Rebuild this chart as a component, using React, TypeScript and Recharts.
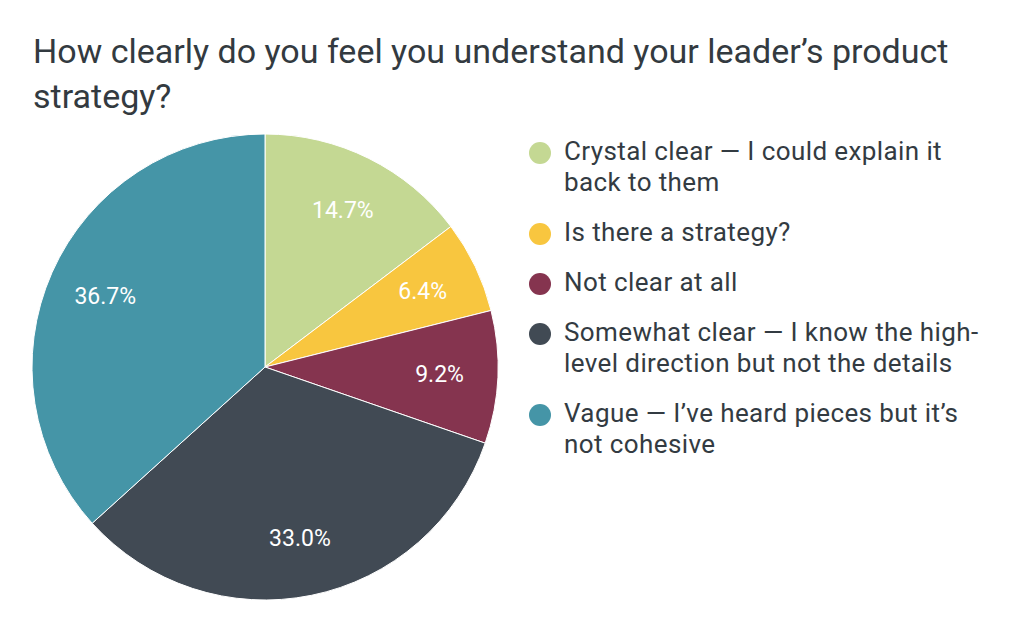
import React from "react";
import { PieChart, Pie, Cell, Legend } from "recharts";

const categories = [
  "Crystal clear — I could explain it back to them",
  "Is there a strategy?",
  "Not clear at all",
  "Somewhat clear — I know the high-level direction but not the details",
  "Vague — I’ve heard pieces but it’s not cohesive",
];
const values = [14.7, 6.4, 9.2, 33.0, 36.7];
const legendLines = [
  ["Crystal clear — I could explain it", "back to them"],
  ["Is there a strategy?"],
  ["Not clear at all"],
  ["Somewhat clear — I know the high-", "level direction but not the details"],
  ["Vague — I’ve heard pieces but it’s", "not cohesive"],
];
const colors = ["#c4d893", "#f8c63f", "#85344f", "#414a54", "#4595a7"];
const titleLines = ["How clearly do you feel you understand your leader’s product", "strategy?"];

const data = categories.map((name, i) => ({ name, value: values[i] }));

const FONT = "Roboto, 'Noto Sans', sans-serif";
const RAD = Math.PI / 180;

const renderLabel = (props: any) => {
  const { cx, cy, midAngle, outerRadius, value } = props;
  const r = outerRadius * 0.75;
  const x = cx + r * Math.cos(-midAngle * RAD);
  const y = cy + r * Math.sin(-midAngle * RAD);
  return (
    <text x={x} y={y} fill="#ffffff" textAnchor="middle" dominantBaseline="central" fontSize={23} fontFamily={FONT}>
      {value.toFixed(1)}%
    </text>
  );
};

const renderLegend = () => (
  <div style={{ fontFamily: FONT, fontSize: 26, letterSpacing: 0.4, color: "#333b42", lineHeight: "31px" }}>
    {legendLines.map((lines, i) => (
      <div key={i} style={{ position: "relative", paddingLeft: 36, marginBottom: 19 }}>
        <span
          style={{
            position: "absolute",
            left: 1,
            top: 6,
            width: 22,
            height: 22,
            borderRadius: 11,
            background: colors[i],
          }}
        />
        {lines.map((l, j) => (
          <div key={j} style={{ whiteSpace: "nowrap" }}>{l}</div>
        ))}
      </div>
    ))}
  </div>
);

export default function App() {
  return (
    <div style={{ position: "absolute", left: 0, top: 0, width: 1024, height: 633, background: "#ffffff", overflow: "hidden" }}>
      <div
        style={{
          position: "absolute",
          left: 33,
          top: 29,
          fontFamily: FONT,
          fontSize: 34,
          lineHeight: "45px",
          color: "#333a40",
          whiteSpace: "nowrap",
        }}
      >
        {titleLines.map((t, i) => (
          <div key={i}>{t}</div>
        ))}
      </div>
      <div style={{ position: "absolute", left: 0, top: 0 }}>
        <PieChart width={1024} height={633} margin={{ top: 0, right: 0, bottom: 0, left: 0 }}>
          <Pie
            data={data}
            dataKey="value"
            nameKey="name"
            cx={265}
            cy={367}
            outerRadius={233}
            startAngle={90}
            endAngle={-270}
            stroke="#ffffff"
            strokeWidth={1}
            label={renderLabel}
            labelLine={false}
            isAnimationActive={false}
          >
            {data.map((d, i) => (
              <Cell key={d.name} fill={colors[i]} />
            ))}
          </Pie>
          <Legend
            layout="horizontal"
            verticalAlign="bottom"
            align="left"
            content={renderLegend}
            wrapperStyle={{ position: "absolute", left: 528, top: 136, bottom: "auto", width: 480, height: 340 }}
          />
        </PieChart>
      </div>
    </div>
  );
}
